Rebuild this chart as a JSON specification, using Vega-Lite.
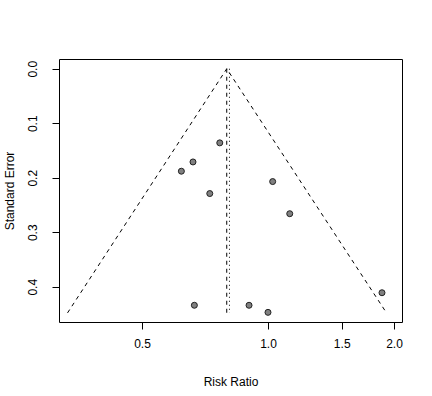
{
  "$schema": "https://vega.github.io/schema/vega-lite/v6.json",
  "width": 343,
  "height": 263,
  "autosize": {"type": "none"},
  "padding": {"left": 59, "top": 59, "right": 30, "bottom": 74},
  "background": "white",
  "config": {
    "font": "Liberation Sans",
    "view": {"stroke": "black", "strokeWidth": 1},
    "axis": {
      "grid": false,
      "domain": false,
      "tickColor": "black",
      "tickSize": 7,
      "labelFont": "Liberation Sans",
      "labelFontSize": 12,
      "labelColor": "black",
      "titleFont": "Liberation Sans",
      "titleFontSize": 12,
      "titleFontWeight": "normal",
      "titleColor": "black"
    }
  },
  "datasets": {
    "studies": [
      {"rr": 0.767, "se": 0.136},
      {"rr": 0.662, "se": 0.171},
      {"rr": 0.621, "se": 0.188},
      {"rr": 0.726, "se": 0.229},
      {"rr": 1.026, "se": 0.207},
      {"rr": 1.127, "se": 0.266},
      {"rr": 0.667, "se": 0.434},
      {"rr": 0.901, "se": 0.434},
      {"rr": 1.0, "se": 0.447},
      {"rr": 1.872, "se": 0.411}
    ],
    "funnel": [
      {"rr": 0.332, "se": 0.448, "ord": 1},
      {"rr": 0.797, "se": 0.0, "ord": 2},
      {"rr": 1.919, "se": 0.448, "ord": 3}
    ],
    "center": [
      {"rr": 0.797, "top": 0.0, "bottom": 0.448, "kind": "dashed"}
    ],
    "center2": [
      {"rr": 0.809, "top": 0.0, "bottom": 0.448, "kind": "dotted"}
    ]
  },
  "layer": [
    {
      "data": {"name": "funnel"},
      "mark": {"type": "line", "color": "black", "strokeWidth": 1, "strokeDash": [4, 4], "clip": true},
      "encoding": {
        "x": {"field": "rr", "type": "quantitative", "scale": {"type": "log", "domain": [0.3168, 2.0897], "nice": false, "zero": false},
          "axis": {"values": [0.5, 1.0, 1.5, 2.0], "format": ".1f", "title": "Risk Ratio", "labelPadding": 9, "titlePadding": 27}},
        "y": {"field": "se", "type": "quantitative", "scale": {"domain": [-0.0179, 0.4647], "reverse": true, "nice": false, "zero": false},
          "axis": {"values": [0, 0.1, 0.2, 0.3, 0.4], "format": ".1f", "title": "Standard Error", "labelAngle": -90, "labelAlign": "center", "labelBaseline": "bottom", "labelPadding": 13, "titlePadding": 10}},
        "order": {"field": "ord", "type": "quantitative"}
      }
    },
    {
      "data": {"name": "center"},
      "mark": {"type": "rule", "color": "black", "strokeWidth": 1, "strokeDash": [4, 4]},
      "encoding": {
        "x": {"field": "rr", "type": "quantitative"},
        "y": {"field": "top", "type": "quantitative"},
        "y2": {"field": "bottom"}
      }
    },
    {
      "data": {"name": "center2"},
      "mark": {"type": "rule", "color": "black", "strokeWidth": 1, "strokeDash": [1, 3]},
      "encoding": {
        "x": {"field": "rr", "type": "quantitative"},
        "y": {"field": "top", "type": "quantitative"},
        "y2": {"field": "bottom"}
      }
    },
    {
      "data": {"name": "studies"},
      "mark": {"type": "point", "filled": true, "fill": "#808080", "stroke": "#222222", "strokeWidth": 1, "size": 36, "opacity": 1, "shape": "circle"},
      "encoding": {
        "x": {"field": "rr", "type": "quantitative"},
        "y": {"field": "se", "type": "quantitative"}
      }
    }
  ]
}
